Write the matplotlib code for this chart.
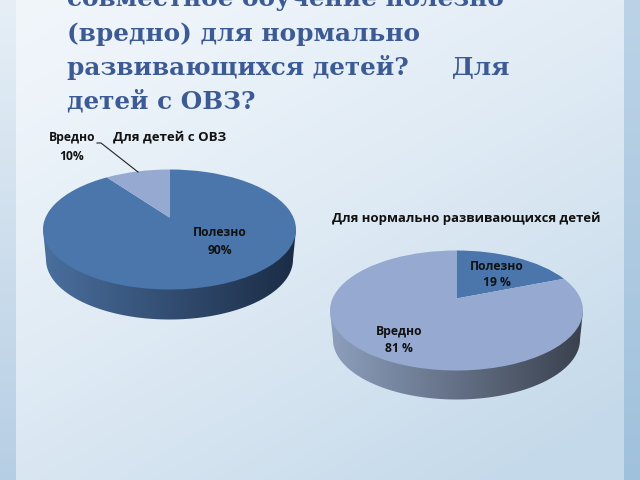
import numpy as np
import matplotlib
matplotlib.use("Agg")
import matplotlib.pyplot as plt
from matplotlib.colors import LinearSegmentedColormap, to_rgb
from matplotlib.patches import Polygon
from matplotlib.path import Path

# Data
labels_a = ["Полезно", "Вредно"]
values_a = [90, 10]
text_a = ["90%", "10%"]
labels_b = ["Полезно", "Вредно"]
values_b = [19, 81]
text_b = ["19 %", "81 %"]
title_lines = ["совместное обучение полезно", "(вредно) для нормально",
               "развивающихся детей?     Для", "детей с ОВЗ?"]
title_a = "Для детей с ОВЗ"
title_b = "Для нормально развивающихся детей"

BLUE, LIGHT = "#4a76ab", "#95a9d1"
FONT = "Open Sans"

fig = plt.figure(figsize=(6.4, 4.8), dpi=100)
ax = fig.add_axes([0, 0, 1, 1], zorder=0)

# Background: slide panel with a diagonal gradient and darker side bands
yy, xx = np.mgrid[0:480, 0:640]
t = np.clip((xx / 640 * 0.6 + yy / 480 * 0.8 + 0.02) / 1.3, 0, 1) ** 1.4
c0, c1 = np.array(to_rgb("#f1f6fb")), np.array(to_rgb("#c4d9ea"))
bg = c0 + (c1 - c0) * t[..., None]
band = np.clip(yy / 480, 0, 1)[..., None]
left = np.array(to_rgb("#e6eff6")) + (np.array(to_rgb("#b6cee4")) - np.array(to_rgb("#e6eff6"))) * band
right = np.array(to_rgb("#bcd3e7")) + (np.array(to_rgb("#a0c1dc")) - np.array(to_rgb("#bcd3e7"))) * band
bg[:, :16] = left[:, :16]
bg[:, 624:] = right[:, 624:]
ax.imshow(bg, extent=(0, 640, 480, 0), aspect="auto", zorder=0, interpolation="bilinear")


def boost(v, b=0.2):
    """Perspective of a tilted disc: keeps the unit circle, moves the apex up by b."""
    w = 1 + b * v[:, 1]
    return np.column_stack([v[:, 0] * np.sqrt(1 - b * b) / w, (v[:, 1] + b) / w])


def pie3d(values, cx, cy, rx, ry, depth, side_left, side_right):
    # rim of the disc
    th = np.linspace(0, np.pi, 200)
    low = np.column_stack([cx + (rx - 3) * np.cos(th), cy + depth + ry * np.sin(th)])
    poly = Polygon(np.vstack([[[cx + rx, cy]], low, [[cx - rx, cy]]]),
                   closed=True, transform=ax.transData, fc="none", ec="none")
    ax.add_patch(poly)
    cmap = LinearSegmentedColormap.from_list("side", [side_left, side_right])
    grad = np.linspace(0, 1, 256)[None, :]
    im = ax.imshow(grad, cmap=cmap, extent=(cx - rx, cx + rx, cy + ry + depth + 2, cy - 2),
                   aspect="auto", zorder=1)
    im.set_clip_path(poly)
    # top face
    x0, y1 = (cx - rx) / 640, 1 - (cy - ry) / 480
    pie_ax = fig.add_axes([x0, y1 - 2 * ry / 480, 2 * rx / 640, 2 * ry / 480], zorder=2)
    wedges, _ = pie_ax.pie(values, colors=[BLUE, LIGHT], startangle=90, counterclock=False,
                           radius=1, wedgeprops=dict(linewidth=0))
    pie_ax.set_aspect("auto")
    pie_ax.set_xlim(-1, 1)
    pie_ax.set_ylim(-1, 1)
    pie_ax.patch.set_visible(False)
    pie_ax.axis("off")
    for w in wedges:
        p = w.get_path()
        w._path = Path(boost(np.asarray(p.vertices)), p.codes)
        w.set_clip_on(False)


pie3d(values_a, 169.5, 229.5, 126.5, 60, 30, "#4a6f9e", "#1b2c45")
pie3d(values_b, 456.5, 310.5, 126.5, 60, 29, "#8d9fbd", "#3a414e")

ax.set_xlim(0, 640)
ax.set_ylim(480, 0)
ax.axis("off")

# Overlay for all text, above the pie faces
top = fig.add_axes([0, 0, 1, 1], zorder=5)
top.set_xlim(0, 640)
top.set_ylim(480, 0)
top.axis("off")

# Slide title
for line, y in zip(title_lines, [-1, 34, 68, 101]):
    top.text(67, y, line, family="DejaVu Serif", weight="bold", fontsize=17.85,
             color="#3c5a94", va="center", ha="left")

# Chart titles and labels
txt = dict(family=FONT, weight="bold", color="#111111", ha="center", va="center")
top.text(169.5, 137, title_a, fontsize=9.5, **txt)
top.text(466.5, 218, title_b, fontsize=9.45, **txt)
top.text(72.5, 138, labels_a[1], fontsize=8.7, **txt)
top.text(72, 156, text_a[1], fontsize=8.7, **txt)
top.text(220, 232, labels_a[0], fontsize=8.7, **txt)
top.text(220, 251, text_a[0], fontsize=8.7, **txt)
top.text(497, 266, labels_b[0], fontsize=8.7, **txt)
top.text(497, 283, text_b[0], fontsize=8.7, **txt)
top.text(399, 331, labels_b[1], fontsize=8.7, **txt)
top.text(399, 348, text_b[1], fontsize=8.7, **txt)

# Leader line for the 10% label
top.plot([97, 101, 138], [143, 143, 172], color="#222222", lw=0.8)

fig.savefig("out.png", dpi=100)
